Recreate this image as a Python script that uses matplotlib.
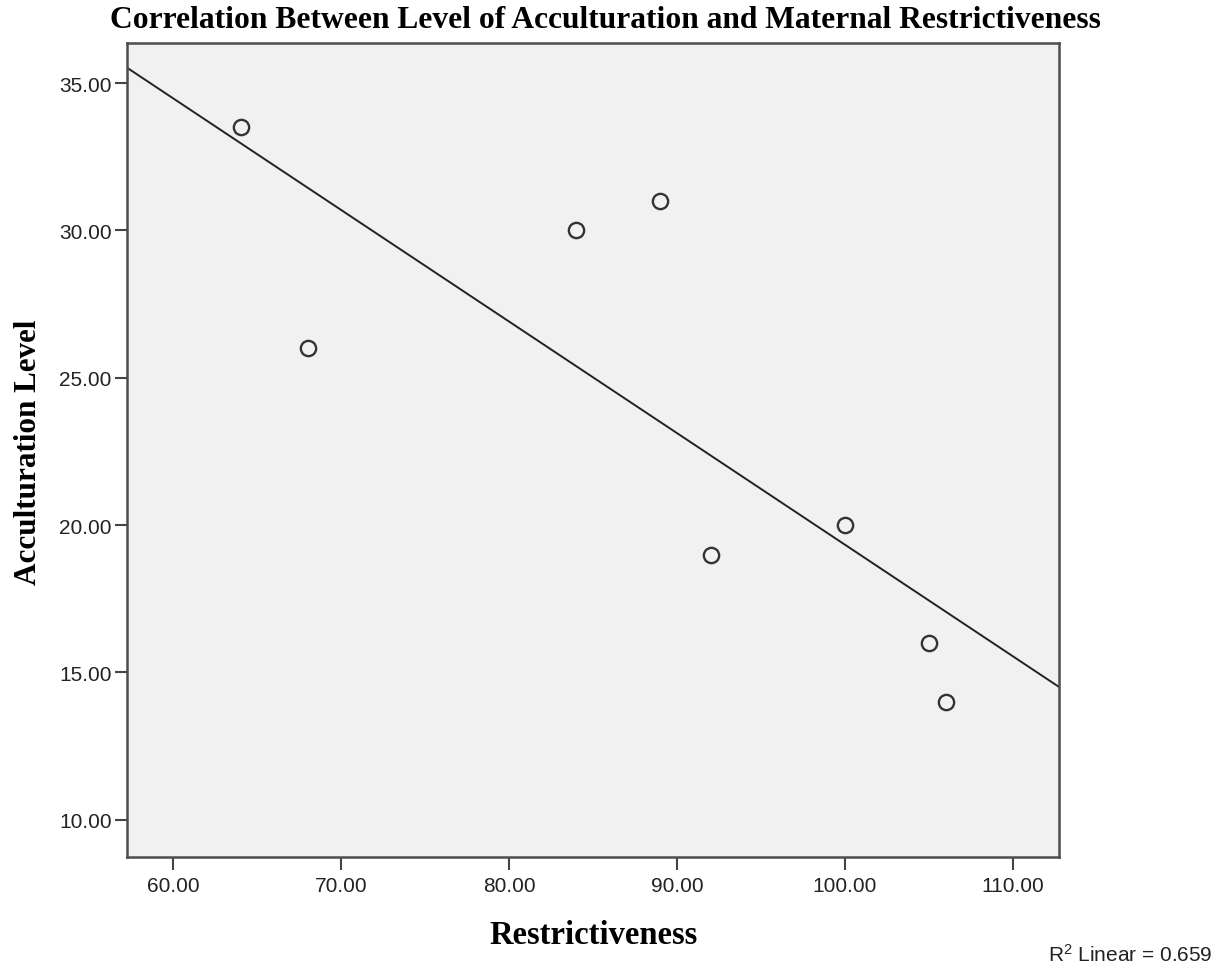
import numpy as np
import matplotlib
matplotlib.use("Agg")
import matplotlib.pyplot as plt
from matplotlib.ticker import FormatStrFormatter

# --- Data ---
restrictiveness = [64, 68, 84, 89, 92, 100, 105, 106]
acculturation = [33.5, 26, 30, 31, 19, 20, 16, 14]

x_ticks = [60, 70, 80, 90, 100, 110]
y_ticks = [10, 15, 20, 25, 30, 35]

plt.rcParams["mathtext.fontset"] = "custom"
plt.rcParams["mathtext.rm"] = "Liberation Sans"
plt.rcParams["mathtext.default"] = "regular"

fig = plt.figure(figsize=(12.23, 9.7), dpi=100)
ax = fig.add_axes([0.1038, 0.1150, 0.7625, 0.8396])
ax.set_facecolor("#f1f1f1")

# linear fit line, as SPSS draws it across the whole plot
slope, intercept = np.polyfit(restrictiveness, acculturation, 1)
r2 = np.corrcoef(restrictiveness, acculturation)[0, 1] ** 2
xlim = (57.23, 112.78)
fit_x = np.array(xlim)
ax.plot(fit_x, slope * fit_x + intercept, color="#222222", lw=1.4, zorder=2)

ax.plot(restrictiveness, acculturation, "o", ms=11, mfc="none", mec="#333333",
        mew=1.7, zorder=3)

ax.set_xlim(*xlim)
ax.set_ylim(8.72, 36.36)
ax.set_xticks(x_ticks)
ax.set_yticks(y_ticks)
ax.xaxis.set_major_formatter(FormatStrFormatter("%.2f"))
ax.yaxis.set_major_formatter(FormatStrFormatter("%.2f"))

for side in ["left", "right", "top", "bottom"]:
    ax.spines[side].set_color("#4d4d4d")
    ax.spines[side].set_linewidth(1.8)

ax.tick_params(direction="out", length=9, width=1.5, color="#444444",
               labelsize=15, labelcolor="#222222")
ax.tick_params(axis="y", pad=2)
ax.tick_params(axis="x", pad=4)
for lab in ax.get_xticklabels() + ax.get_yticklabels():
    lab.set_family("Liberation Sans")

# --- Text ---
fig.text(0.495, 0.979, "Correlation Between Level of Acculturation and Maternal Restrictiveness",
         ha="center", va="center", fontsize=22.7, fontweight="bold", family="Liberation Serif")
fig.text(0.023, 0.534, "Acculturation Level", rotation=90, ha="center", va="center",
         fontsize=22.4, fontweight="bold", family="Liberation Serif")
fig.text(0.485, 0.036, "Restrictiveness", ha="center", va="center",
         fontsize=23.5, fontweight="bold", family="Liberation Serif")
fig.text(0.991, 0.0155, "R$^2$ Linear = %.3f" % r2, ha="right", va="center",
         fontsize=15, family="Liberation Sans", color="#222222")

plt.savefig("out.png", dpi=100)
